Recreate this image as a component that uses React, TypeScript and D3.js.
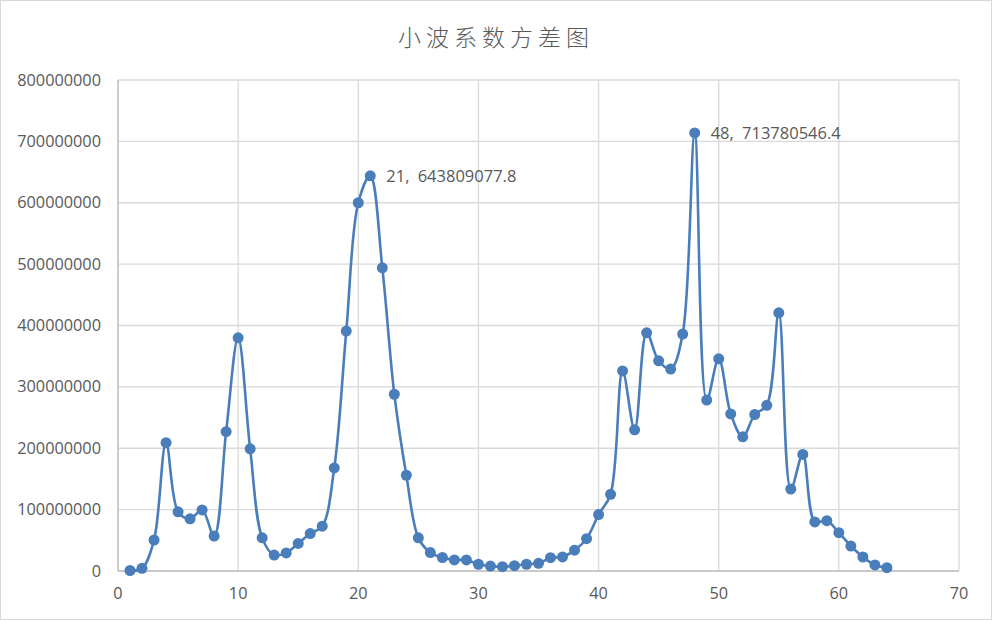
import React from "react";
import * as d3 from "d3";

const title = "小波系数方差图";
const xValues = d3.range(1, 65);
const yValues = [
  800000, 4300000, 50500000, 209000000, 96500000, 85000000, 99500000, 57000000,
  227000000, 380000000, 199000000, 54000000, 26000000, 29500000, 45000000, 61000000,
  73000000, 168000000, 391000000, 600000000, 643809077.8, 494000000, 288000000, 156000000,
  54000000, 30000000, 22000000, 18000000, 18000000, 11000000, 8000000, 7000000,
  8700000, 11000000, 12500000, 21700000, 23000000, 34000000, 52700000, 92000000,
  125000000, 326000000, 230000000, 388000000, 342500000, 329000000, 386000000, 713780546.4,
  278500000, 345800000, 256000000, 218700000, 255000000, 270000000, 420700000, 133500000,
  190000000, 80000000, 82000000, 62400000, 40700000, 22800000, 9800000, 5400000,
];
const xTicks = [0, 10, 20, 30, 40, 50, 60, 70];
const yTicks = [0, 100000000, 200000000, 300000000, 400000000, 500000000, 600000000, 700000000, 800000000];
const labelIndices = [20, 47];

const W = 993;
const H = 621;
const m = { left: 118, right: 959, top: 80, bottom: 571 };

export default function App() {
  const x = d3.scaleLinear().domain([0, 70]).range([m.left, m.right]);
  const y = d3.scaleLinear().domain([0, 800000000]).range([m.bottom, m.top]);
  const pts = xValues.map((v, i) => [x(v), y(yValues[i])] as [number, number]);
  const line = d3.line().curve(d3.curveCatmullRom.alpha(0.5))(pts) || "";
  const color = "#4a7ebb";
  const textColor = "#595959";
  const font = "'Open Sans', 'Liberation Sans', sans-serif";
  return (
    <svg
      width={W}
      height={H}
      style={{ position: "absolute", left: 0, top: 0, background: "#fff" }}
    >
      <rect x={0.5} y={0.5} width={W - 2} height={H - 2} fill="#fff" stroke="#d9d9d9" />
      <text
        x={496}
        y={46}
        textAnchor="middle"
        fontFamily="'Noto Sans CJK SC', sans-serif"
        fontSize={23}
        fontWeight={300}
        letterSpacing={5}
        fill={textColor}
      >
        {title}
      </text>
      {yTicks.map((t) => (
        <line key={"gy" + t} x1={m.left} x2={m.right} y1={y(t)} y2={y(t)} stroke="#d9d9d9" strokeWidth={1.3} />
      ))}
      {xTicks.map((t) => (
        <line key={"gx" + t} x1={x(t)} x2={x(t)} y1={m.top} y2={m.bottom} stroke="#d9d9d9" strokeWidth={1.3} />
      ))}
      <line x1={m.left} x2={m.left} y1={m.top} y2={m.bottom} stroke="#bfbfbf" strokeWidth={1.3} />
      <line x1={m.left} x2={m.right} y1={m.bottom} y2={m.bottom} stroke="#bfbfbf" strokeWidth={1.3} />
      {yTicks.map((t) => (
        <text
          key={"ly" + t}
          x={101}
          y={y(t) + 5.5}
          textAnchor="end"
          fontFamily={font}
          fontSize={16.3}
          fill={textColor}
        >
          {String(t)}
        </text>
      ))}
      {xTicks.map((t) => (
        <text
          key={"lx" + t}
          x={x(t)}
          y={599}
          textAnchor="middle"
          fontFamily={font}
          fontSize={16.3}
          fill={textColor}
        >
          {String(t)}
        </text>
      ))}
      <path d={line} fill="none" stroke={color} strokeWidth={2.6} />
      {pts.map((p, i) => (
        <circle key={"c" + i} cx={p[0]} cy={p[1]} r={5.5} fill={color} />
      ))}
      {labelIndices.map((i) => (
        <text
          key={"dl" + i}
          x={pts[i][0] + 16}
          y={pts[i][1] + 6}
          fontFamily={font}
          fontSize={16.5}
          fill={textColor}
        >
          {`${xValues[i]},\u2002${yValues[i]}`}
        </text>
      ))}
    </svg>
  );
}
